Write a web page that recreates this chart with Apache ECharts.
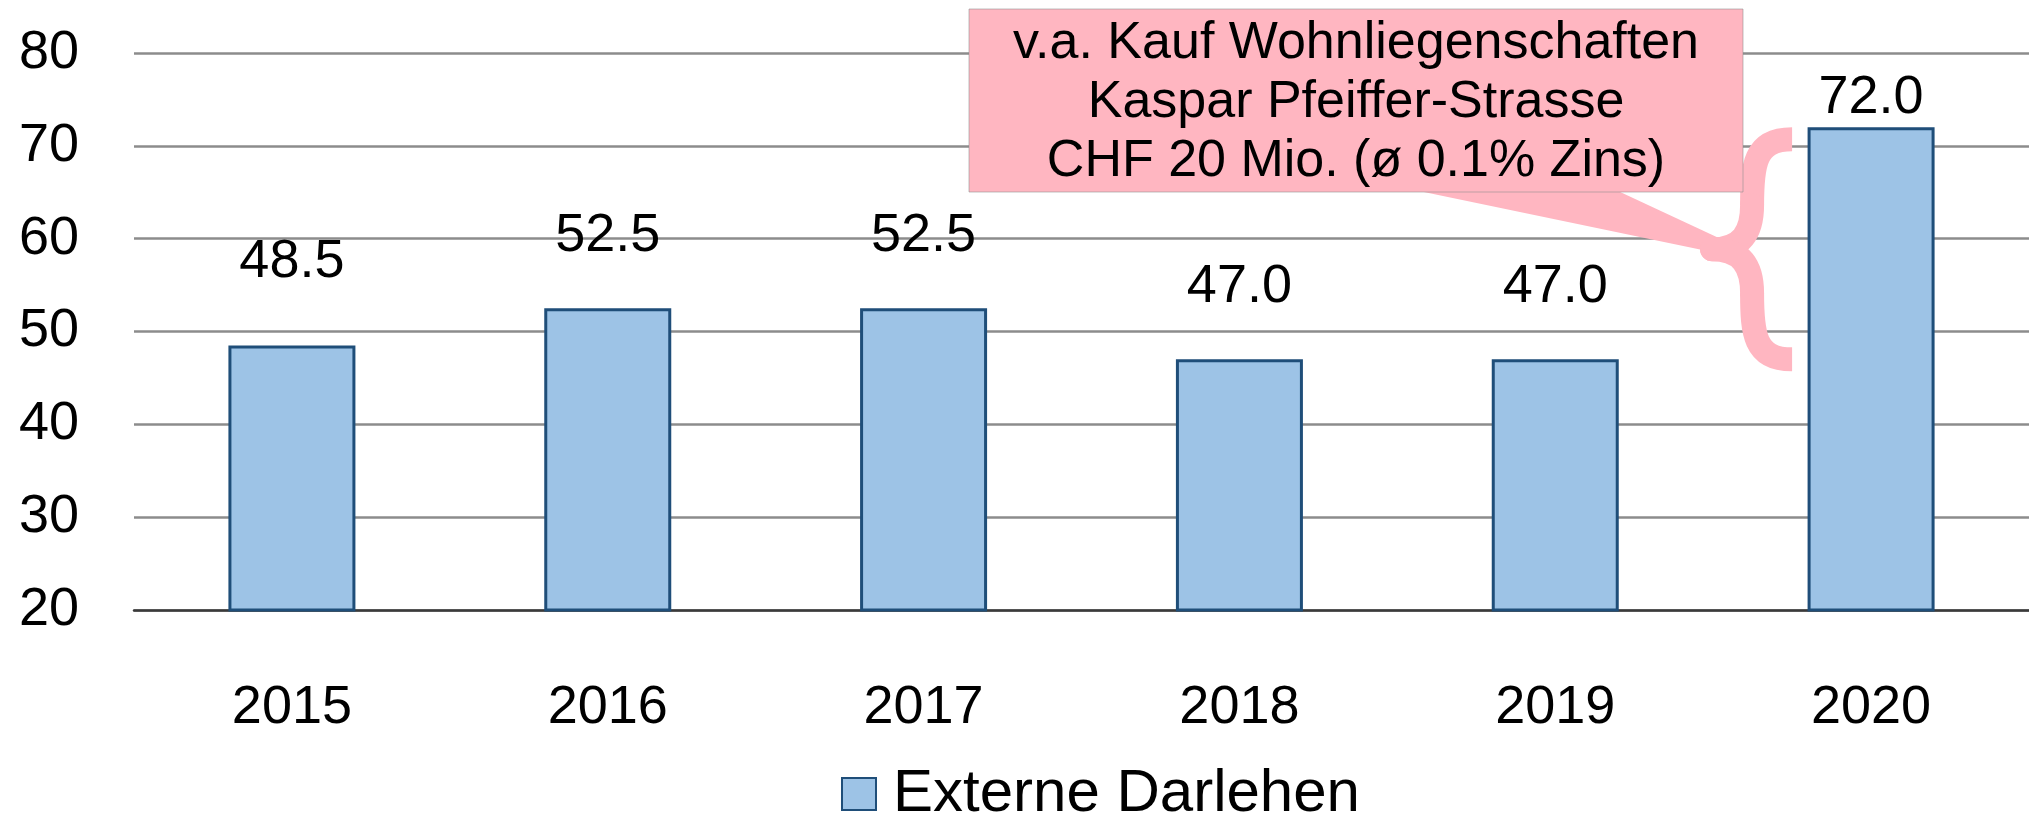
<!DOCTYPE html>
<html>
<head>
<meta charset="utf-8">
<script src="https://cdn.jsdelivr.net/npm/echarts@6/dist/echarts.min.js"></script>
<style>
  html, body { margin: 0; padding: 0; background: #fff; }
  #chart { width: 2029px; height: 816px; }
</style>
</head>
<body>
<div id="chart"></div>
<script>
const years = ['2015', '2016', '2017', '2018', '2019', '2020']
const darlehen = [48.5, 52.5, 52.5, 47.0, 47.0, 72.0]
const yMin = 20
const yMax = 80
const yStep = 10
const seriesName = 'Externe Darlehen'
const noteLines = ['v.a. Kauf Wohnliegenschaften', 'Kaspar Pfeiffer-Strasse', 'CHF 20 Mio. (ø 0.1% Zins)']
// the brace spans from the 2019 level up to 2020
const braceFrom = 47.0
const braceTo = 72.0

const FONT = '"Liberation Sans", Arial, sans-serif'
const PINK = '#FFB6C1'
// value labels sit higher above the bars except the last one
const labelGap = [56, 45, 45, 45, 45, 2]

const chart = echarts.init(document.getElementById('chart'))

chart.setOption({
  backgroundColor: '#fff',
  animation: false,
  grid: {
    left: 134,
    top: 53,
    width: 1913,
    height: 557
  },
  legend: {
    data: [seriesName],
    left: 841,
    top: 764,
    padding: 0,
    icon: 'rect',
    itemWidth: 34,
    itemHeight: 32,
    textStyle: {
      fontFamily: FONT,
      fontSize: 60,
      lineHeight: 60,
      color: '#000',
      padding: [0, 0, 0, 12]
    }
  },
  xAxis: {
    type: 'category',
    data: years,
    axisTick: { show: false },
    axisLine: { lineStyle: { color: '#3a3a3a', width: 2.5 } },
    axisLabel: {
      fontFamily: FONT,
      fontSize: 54,
      color: '#000',
      margin: 71
    }
  },
  yAxis: {
    type: 'value',
    min: yMin,
    max: yMax,
    interval: yStep,
    axisLine: { show: false },
    axisTick: { show: false },
    splitLine: { lineStyle: { color: '#8c8c8c', width: 2.5 } },
    axisLabel: {
      fontFamily: FONT,
      fontSize: 54,
      color: '#000',
      margin: 55
    }
  },
  series: [{
    name: seriesName,
    type: 'bar',
    data: darlehen.map((v, i) => ({ value: v, label: { distance: labelGap[i] } })),
    barWidth: 127,
    itemStyle: {
      color: '#9DC3E6',
      borderColor: '#1F4E79',
      borderWidth: 3
    },
    label: {
      show: true,
      position: 'top',
      fontFamily: FONT,
      fontSize: 54,
      color: '#000',
      formatter: p => p.value.toFixed(1)
    }
  }]
})

// callout + brace, brace anchored to the 2020 bar
const last = years.length - 1
const pHi = chart.convertToPixel({ gridIndex: 0 }, [last, braceTo])
const pLo = chart.convertToPixel({ gridIndex: 0 }, [last, braceFrom])
const barLeft = pHi[0] - 65
const bTop = pHi[1] + 12
const bBot = pLo[1]
const bMid = (bTop + bBot) / 2
const bH = bBot - bTop
const ex = barLeft - 14
const ax = barLeft - 50
const cx = barLeft - 94

function braceSeg(x1, y1, c1x, c1y, c2x, c2y, x2, y2, cap) {
  return {
    type: 'bezierCurve',
    z: 100,
    shape: { x1: x1, y1: y1, cpx1: c1x, cpy1: c1y, cpx2: c2x, cpy2: c2y, x2: x2, y2: y2 },
    style: { stroke: PINK, lineWidth: 24, lineCap: cap, fill: 'none' }
  }
}

chart.setOption({
  graphic: [
    {
      type: 'polygon',
      z: 100,
      shape: { points: [[1419, 191], [1618, 191], [cx + 18, bMid - 6], [cx + 6, bMid + 4]] },
      style: { fill: PINK }
    },
    {
      type: 'rect',
      z: 101,
      shape: { x: 969, y: 9, width: 774, height: 183 },
      style: { fill: PINK, stroke: 'rgba(140,140,140,0.55)', lineWidth: 1 }
    },
    {
      type: 'text',
      z: 102,
      x: 1356,
      y: 103,
      style: {
        text: noteLines.join('\n'),
        fontFamily: FONT,
        fontSize: 52,
        lineHeight: 59,
        fill: '#000',
        align: 'center',
        verticalAlign: 'middle'
      }
    },
    braceSeg(ex, bTop, ax - 2, bTop, ax - 4, bTop + 0.12 * bH, ax - 4, bTop + 0.3 * bH, 'butt'),
    braceSeg(ax - 4, bTop + 0.3 * bH, ax - 4, bMid - 0.08 * bH, ax - 14, bMid, cx, bMid, 'round'),
    braceSeg(cx, bMid, ax - 14, bMid, ax - 4, bMid + 0.08 * bH, ax - 4, bBot - 0.3 * bH, 'round'),
    braceSeg(ax - 4, bBot - 0.3 * bH, ax - 4, bBot - 0.12 * bH, ax - 2, bBot, ex, bBot, 'butt')
  ]
})
</script>
</body>
</html>
